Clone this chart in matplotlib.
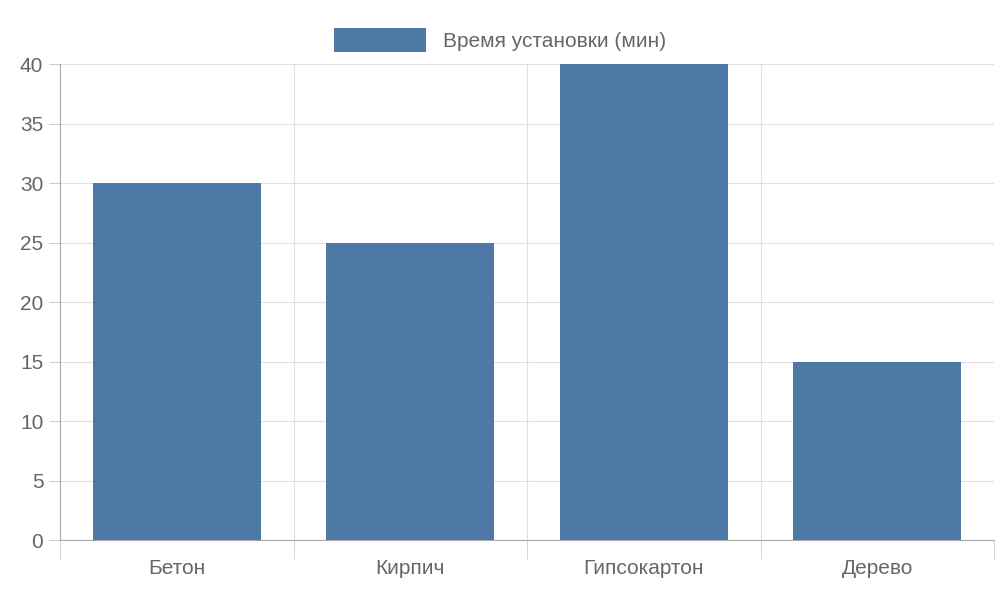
import matplotlib
matplotlib.use("Agg")
import matplotlib.pyplot as plt
import numpy as np

categories = ["Бетон", "Кирпич", "Гипсокартон", "Дерево"]
values = [30, 25, 40, 15]
series_name = "Время установки (мин)"

plt.rcParams['font.family'] = ['Liberation Sans', 'DejaVu Sans']
fig = plt.figure(figsize=(10, 6), dpi=100)
ax = fig.add_axes([0.06, 0.1, 0.934, 0.7933])
x = np.arange(len(categories))
ax.bar(x, values, width=0.72, color='#4e79a7', label=series_name, zorder=3)
ax.set_xlim(-0.5, len(categories) - 0.5)
ax.set_ylim(0, 40)
ax.set_yticks(range(0, 41, 5))
ax.set_xticks(x)
ax.set_xticklabels(categories)
ax.set_xticks(np.arange(-0.5, len(categories), 1), minor=True)
ax.tick_params(axis='x', which='major', length=0, pad=14, labelsize=15, labelcolor='#666666')
ax.tick_params(axis='x', which='minor', length=14, color='#cccccc')
ax.tick_params(axis='y', length=8, color='#cccccc', labelsize=15, labelcolor='#666666', pad=4)
ax.grid(axis='y', color='#e0e0e0', zorder=0)
ax.grid(axis='x', which='minor', color='#e0e0e0', zorder=0)
for s in ['top', 'right']:
    ax.spines[s].set_visible(False)
ax.spines['left'].set_color('#aaaaaa')
ax.spines['bottom'].set_color('#aaaaaa')
fig.legend(loc='upper center', bbox_to_anchor=(0.5, 0.985), frameon=False,
           fontsize=15, labelcolor='#666666', handlelength=4.4, handleheight=1.4)
fig.savefig('out.png', dpi=100)
